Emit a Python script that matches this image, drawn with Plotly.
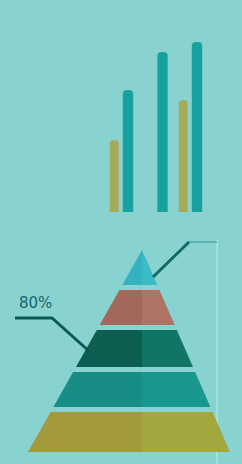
import plotly.graph_objects as go

# ---- data ----
bar_groups = [0, 1, 2]
olive_values = [72, None, 112]
teal_values = [122, 160, 170]

pyramid_levels = ["Top", "Level 2", "Level 3", "Level 4", "Base"]
pyramid_thickness = [35, 35, 37, 35, 40]
pyramid_left_colors = ["#35b2c2", "#a2685a", "#0b5e50", "#178d86", "#a39a3e"]
pyramid_right_colors = ["#3bbac8", "#ad7363", "#117565", "#1a9890", "#a4a63e"]
label_text = "80%"

BG = "#88d2cf"

fig = go.Figure()

# ---- bar chart ----
fig.add_trace(go.Bar(x=[g - 0.4 for g in bar_groups], y=olive_values, width=0.26,
                     marker=dict(color="#a9a95a", line=dict(width=0)),
                     xaxis="x", yaxis="y", showlegend=False))
fig.add_trace(go.Bar(x=bar_groups, y=teal_values, width=0.3,
                     marker=dict(color="#16a39f", line=dict(width=0)),
                     xaxis="x", yaxis="y", showlegend=False))

# ---- pyramid (geometry computed from thickness list) ----
apex_x, apex_y = 142, 250
gap = 5
total = sum(pyramid_thickness) + gap * (len(pyramid_thickness) - 1)
base_y = 452
scale = (base_y - apex_y) / total
left_slope = (142 - 28) / (base_y - apex_y)
right_slope = (230 - 142) / (base_y - apex_y)

def xl(y):
    return apex_x - left_slope * (y - apex_y)

def xr(y):
    return apex_x + right_slope * (y - apex_y)

y0 = apex_y
for i, t in enumerate(pyramid_thickness):
    y1 = y0 + t * scale
    fig.add_trace(go.Scatter(x=[xl(y0), apex_x, apex_x, xl(y1), xl(y0)],
                             y=[y0, y0, y1, y1, y0], fill="toself", mode="lines",
                             line=dict(width=0), fillcolor=pyramid_left_colors[i],
                             xaxis="x2", yaxis="y2", showlegend=False, hoverinfo="skip"))
    fig.add_trace(go.Scatter(x=[apex_x, xr(y0), xr(y1), apex_x, apex_x],
                             y=[y0, y0, y1, y1, y0], fill="toself", mode="lines",
                             line=dict(width=0), fillcolor=pyramid_right_colors[i],
                             xaxis="x2", yaxis="y2", showlegend=False, hoverinfo="skip"))
    y0 = y1 + gap * scale

# callout lines
fig.add_trace(go.Scatter(x=[188, 217], y=[242, 242], mode="lines",
                         line=dict(color="#4fa9a8", width=1.5),
                         xaxis="x2", yaxis="y2", showlegend=False, hoverinfo="skip"))
fig.add_trace(go.Scatter(x=[153, 189], y=[277, 242], mode="lines",
                         line=dict(color="#0e6a66", width=3),
                         xaxis="x2", yaxis="y2", showlegend=False, hoverinfo="skip"))
fig.add_trace(go.Scatter(x=[15, 52, 90], y=[318, 318, 352], mode="lines",
                         line=dict(color="#0b5a52", width=3),
                         xaxis="x2", yaxis="y2", showlegend=False, hoverinfo="skip"))

fig.add_annotation(x=35, y=303, xref="x2", yref="y2", text=label_text,
                   showarrow=False,
                   font=dict(family="DejaVu Sans", size=15, color="#17666b"))

# faint background line
fig.add_shape(type="line", x0=217, x1=217, y0=240, y1=464, xref="x2", yref="y2",
              line=dict(color="rgba(170,228,226,0.8)", width=2), layer="below")

fig.update_layout(
    width=242, height=464,
    margin=dict(l=0, r=0, t=0, b=0),
    paper_bgcolor=BG, plot_bgcolor="rgba(0,0,0,0)",
    barcornerradius=4,
    hovermode=False,
    xaxis=dict(domain=[0, 1], range=[(0 - 128) / 34.5, (242 - 128) / 34.5],
               visible=False, fixedrange=True),
    yaxis=dict(domain=[(464 - 212) / 464, (464 - 212 + 180) / 464], range=[0, 180],
               visible=False, fixedrange=True),
    xaxis2=dict(domain=[0, 1], range=[0, 242], visible=False, fixedrange=True),
    yaxis2=dict(domain=[0, 1], range=[464, 0], visible=False, fixedrange=True),
)

fig.write_html("out.html", config={"displayModeBar": False},
               post_script="document.body.style.margin='0';document.body.style.background='" + BG + "';")
